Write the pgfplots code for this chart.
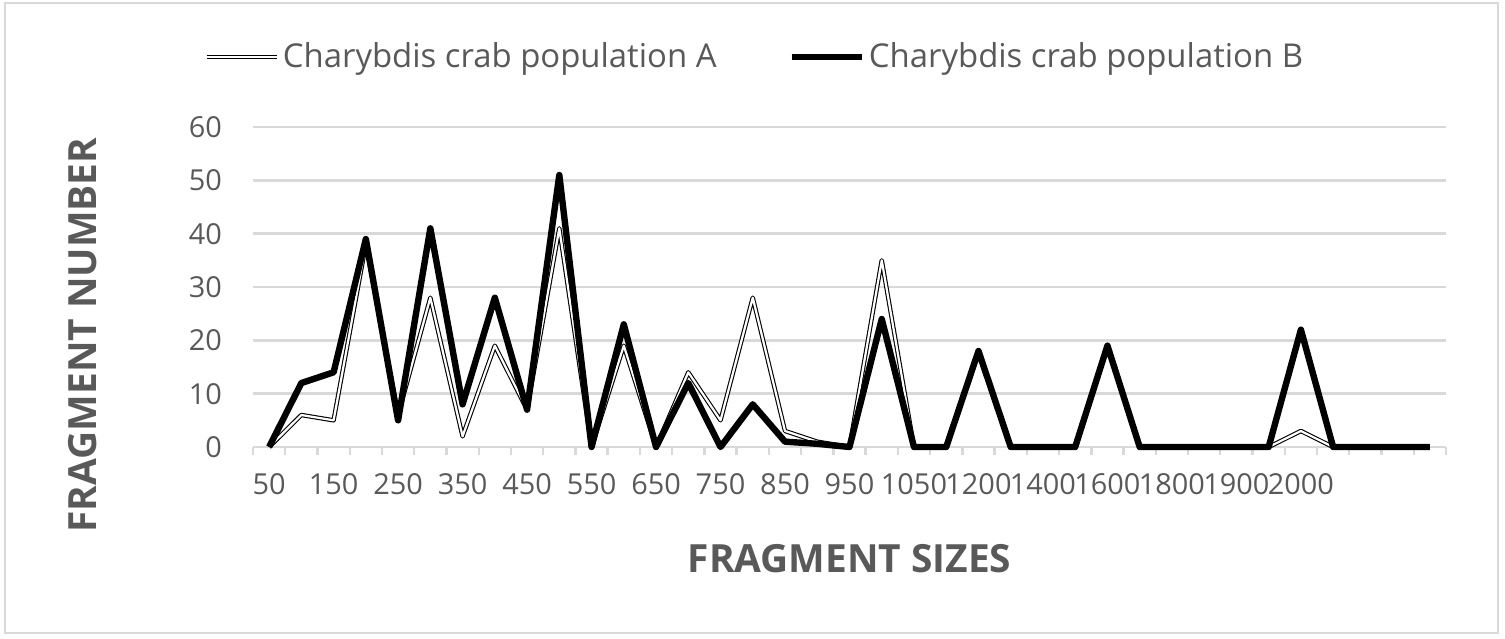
\documentclass[border=0pt]{standalone}
\usepackage{fontspec}
\setmainfont{Open Sans}
\usepackage{pgfplots}
\pgfplotsset{compat=1.18}
\definecolor{txt}{HTML}{595959}
\definecolor{grd}{HTML}{D9D9D9}
\begin{document}
\begin{tikzpicture}
\useasboundingbox (-126.5bp,-96bp) rectangle (626bp,223.5bp);
\draw[grd, line width=1bp] (-124bp,-93bp) rectangle (622.5bp,222bp);
\begin{axis}[
  at={(0,0)}, anchor=south west,
  scale only axis, width=596.5bp, height=160bp,
  xmin=-0.5, xmax=36.5, ymin=0, ymax=60,
  clip=false,
  axis x line*=bottom, axis y line*=left,
  x axis line style={grd, line width=1.2bp},
  y axis line style={draw=none},
  ytick={0,10,...,60},
  xtick={0,2,...,32},
  xticklabels={50,150,250,350,450,550,650,750,850,950,1050,1200,1400,1600,1800,1900,2000},
  minor xtick={-0.5,0.5,...,36.5},
  major tick length=0pt,
  minor tick length=4bp,
  tick align=outside,
  minor tick style={grd, line width=1.2bp},
  ymajorgrids,
  grid style={grd, line width=1.2bp},
  /pgf/number format/assume math mode=true,
  tick label style={font=\fontsize{14.5}{16}\selectfont, text=txt},
  yticklabel style={xshift=-12bp},
  xticklabel style={yshift=-10bp},
  xlabel={FRAGMENT SIZES},
  ylabel={FRAGMENT NUMBER},
  xlabel style={at={(axis description cs:0.5,-0.35)}, anchor=center, font=\bfseries\fontsize{19.5}{22}\selectfont, text=txt},
  ylabel style={at={(axis description cs:-0.1425,0.35)}, anchor=center, font=\bfseries\fontsize{19.5}{22}\selectfont, text=txt},
  legend columns=2,
  legend cell align=left,
  legend style={at={(axis description cs:-0.046,1.219)}, anchor=west, draw=none, fill=none,
    font=\fontsize{16.5}{18}\selectfont, text=txt,
    /tikz/every even column/.append style={column sep=34bp},
    nodes={inner sep=2bp}},
  legend image code/.code={\draw[#1] (0bp,0bp) -- (35bp,0bp);},
]
\addplot[draw=black, line width=0.55bp, double=white, double distance=1.1bp, line join=round] coordinates {
(0,0) (1,6) (2,5) (3,38) (4,6) (5,28) (6,2) (7,19) (8,7) (9,41)
(10,0) (11,19) (12,0) (13,14) (14,5) (15,28) (16,3) (17,1) (18,0) (19,35)
(20,0) (21,0) (22,18) (23,0) (24,0) (25,0) (26,19) (27,0) (28,0) (29,0)
(30,0) (31,0) (32,3) (33,0) (34,0) (35,0) (36,0)};
\addlegendentry{Charybdis crab population A}
\addplot[draw=black, line width=3.2bp, line join=round] coordinates {
(0,0) (1,12) (2,14) (3,39) (4,5) (5,41) (6,8) (7,28) (8,7) (9,51)
(10,0) (11,23) (12,0) (13,12) (14,0) (15,8) (16,1) (17,0.6) (18,0) (19,24)
(20,0) (21,0) (22,18) (23,0) (24,0) (25,0) (26,19) (27,0) (28,0) (29,0)
(30,0) (31,0) (32,22) (33,0) (34,0) (35,0) (36,0)};
\addlegendentry{Charybdis crab population B}
\end{axis}
\end{tikzpicture}
\end{document}
